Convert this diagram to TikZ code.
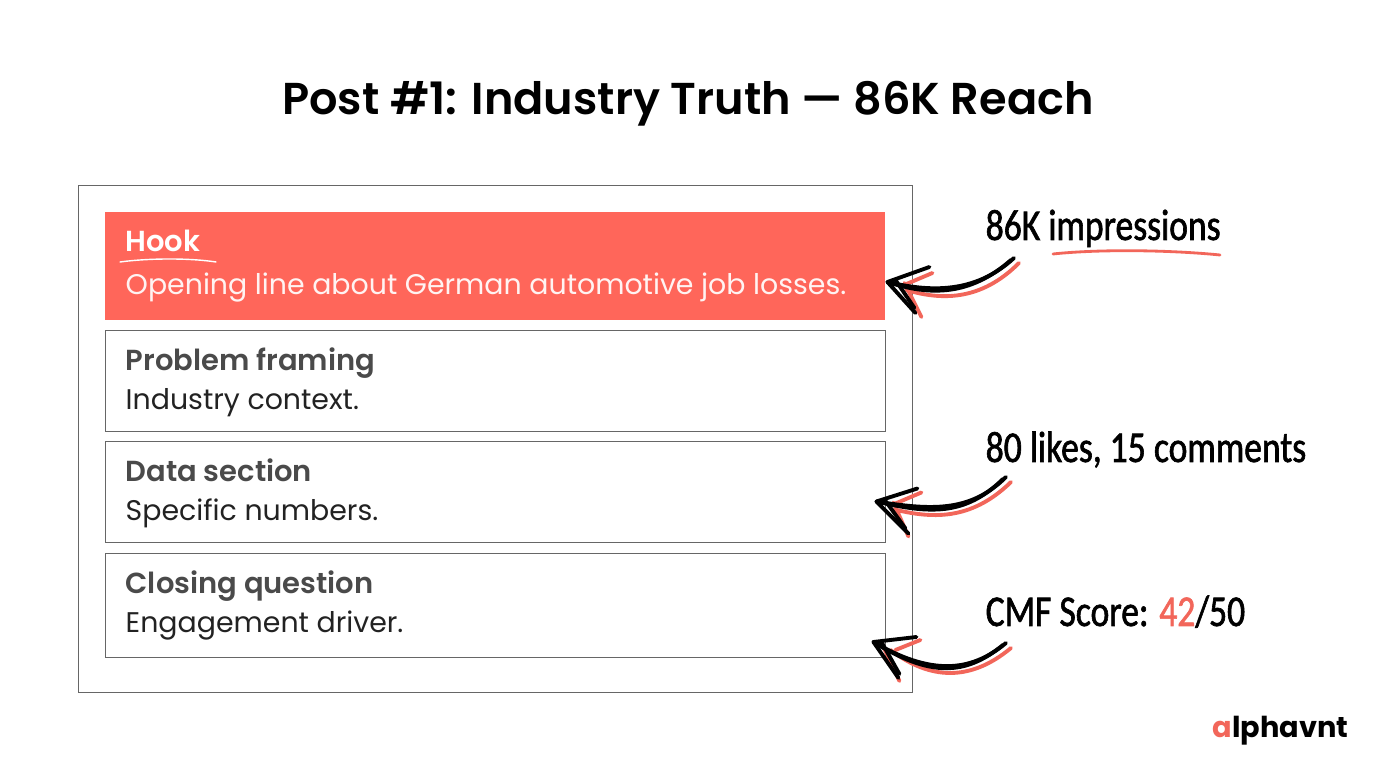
\documentclass[tikz,border=0pt]{standalone}
\usepackage{fontspec}
\setmainfont{Poppins}
\newfontfamily\semifont{Poppins SemiBold}
\newfontfamily\handfont[FakeStretch=0.81,FakeBold=1.4]{Carlito}
\definecolor{coral}{HTML}{FF665A}
\definecolor{inkred}{HTML}{F2665A}
\definecolor{headgray}{HTML}{4A4A4A}
\definecolor{bodyblack}{HTML}{222222}
\definecolor{framegray}{HTML}{666666}
\usetikzlibrary{calc}
\tikzset{
	section/.style={draw=framegray, line width=0.25pt, minimum width=7.8cm, inner sep=0pt},
	headtxt/.style={anchor=base west, inner sep=0pt, font=\fontsize{8.25}{8.25}\semifont, text=headgray},
	bodytxt/.style={anchor=base west, inner sep=0pt, font=\fontsize{8.08}{8.08}\selectfont, text=bodyblack},
	handtxt/.style={anchor=base west, inner sep=0pt, font=\fontsize{12.5}{12.5}\handfont, text=black},
	inkline/.style={draw=black, line width=1.1pt, line cap=round, line join=round},
	redline/.style={draw=inkred, line width=1.1pt, line cap=round, line join=round}
}
\begin{document}
\begin{tikzpicture}
	\useasboundingbox (0,0) rectangle (13.76,7.68);
	\fill[white] (0,0) rectangle (13.76,7.68);

	\node at (6.88,6.53) [anchor=base, inner sep=0pt, font=\fontsize{12.7}{12.7}\semifont] (title) {Post \#1: Industry Truth — 86K Reach};

	\node at (4.95,3.285) [draw=framegray, line width=0.28pt, minimum width=8.34cm, minimum height=5.07cm, inner sep=0pt] (frame) {};

	% boxes
	\node at (4.95,5.02) [section, draw=none, fill=coral, minimum height=1.08cm] (hook) {};
	\node at (4.95,3.875) [section, minimum height=1.01cm] (problem) {};
	\node at (4.95,2.765) [section, minimum height=1.01cm] (data) {};
	\node at (4.95,1.63) [section, minimum height=1.04cm] (closing) {};

	\node at (1.25,5.16) [headtxt, text=white] (hookhead) {Hook};
	\node at (1.25,4.73) [bodytxt, text=white!92!coral] (hookbody) {Opening line about German automotive job losses.};
	\node at (1.25,3.97) [headtxt] (problemhead) {Problem framing};
	\node at (1.25,3.58) [bodytxt] (problembody) {Industry context.};
	\node at (1.25,2.86) [headtxt] (datahead) {Data section};
	\node at (1.25,2.47) [bodytxt] (databody) {Specific numbers.};
	\node at (1.25,1.74) [headtxt] (closinghead) {Closing question};
	\node at (1.25,1.35) [bodytxt] (closingbody) {Engagement driver.};

	\draw[white, line width=0.4pt, line cap=round] (1.20,5.06) .. controls (1.5,5.10) and (1.9,5.10) .. (2.16,5.06);

	% notes
	\node at (9.85,5.28) [handtxt] (note1) {86K impressions};
	\node at (9.85,3.06) [handtxt] (note2) {80 likes, 15 comments};
	\node at (9.85,1.42) [handtxt] (note3) {CMF Score: \textcolor{inkred}{42}/50};

	\draw[redline, line width=0.8pt] (10.53,5.14) .. controls (11.0,5.19) and (11.7,5.18) .. (12.20,5.13);

	\coordinate (tail1) at ($(note1.base west)+(0.29,-0.18)$);
	\coordinate (tail2) at ($(note2.base west)+(0.21,-0.15)$);
	\coordinate (tail3) at ($(note3.base west)+(0.21,-0.17)$);
	\coordinate (tip1) at ($(hook.east)+(0.02,-0.16)$);
	\coordinate (tip2) at ($(data.east)+(-0.09,-0.10)$);
	\coordinate (tip3) at ($(closing.east)+(-0.12,-0.37)$);

	% red shadows first
	\draw[redline] ($(tail1)+(0.05,-0.05)$) .. controls (9.8,4.66) and (9.4,4.68) .. ($(tip1)+(0.19,-0.08)$);
	\draw[redline] ($(tip1)+(0.19,-0.02)$) -- ++(0.26,0.11);
	\draw[redline] ($(tip1)+(0.17,-0.01)$) -- ++(0.17,-0.34);
	\draw[redline] ($(tail2)+(0.05,-0.05)$) .. controls (9.7,2.46) and (9.3,2.50) .. ($(tip2)+(0.18,-0.08)$);
	\draw[redline] ($(tip2)+(0.19,-0.02)$) -- ++(0.26,0.11);
	\draw[redline] ($(tip2)+(0.17,-0.01)$) -- ++(0.15,-0.34);
	\draw[redline] ($(tail3)+(0.05,-0.05)$) .. controls (9.7,0.86) and (9.3,0.88) .. ($(tip3)+(0.17,-0.08)$);
	\draw[redline] ($(tip3)+(0.22,-0.08)$) -- ++(0.25,0.10);
	\draw[redline] ($(tip3)+(0.10,-0.05)$) -- ++(0.16,-0.34);

	% black arrows
	\draw[inkline] (tail1) .. controls (9.75,4.74) and (9.3,4.76) .. (tip1);
	\draw[inkline] ($(tail1)+(-0.03,-0.02)$) .. controls (9.7,4.72) and (9.3,4.72) .. (tip1);
	\draw[inkline] (tip1) -- ++(0.42,0.15);
	\draw[inkline] (tip1) -- ++(0.28,-0.31);
	\draw[inkline] ($(tip1)+(0.08,0.02)$) -- ++(0.19,-0.28);

	\draw[inkline] (tail2) .. controls (9.7,2.55) and (9.3,2.58) .. (tip2);
	\draw[inkline] ($(tail2)+(-0.03,-0.02)$) .. controls (9.65,2.52) and (9.3,2.54) .. (tip2);
	\draw[inkline] (tip2) -- ++(0.41,0.13);
	\draw[inkline] (tip2) -- ++(0.32,-0.32);
	\draw[inkline] ($(tip2)+(0.08,0.02)$) -- ++(0.21,-0.29);

	\draw[inkline] (tail3) .. controls (9.7,0.95) and (9.3,0.93) .. (tip3);
	\draw[inkline] ($(tail3)+(-0.03,-0.02)$) .. controls (9.65,0.92) and (9.3,0.91) .. (tip3);
	\draw[inkline] (tip3) -- ++(0.43,0.05);
	\draw[inkline] (tip3) -- ++(0.25,-0.36);
	\draw[inkline] ($(tip3)+(0.08,0.00)$) -- ++(0.18,-0.32);

	\node at (13.49,0.30) [anchor=base east, inner sep=0pt, font=\fontsize{8.2}{8.2}\selectfont\bfseries] (logo) {\textcolor{inkred}{a}lphavnt};
\end{tikzpicture}
\end{document}
